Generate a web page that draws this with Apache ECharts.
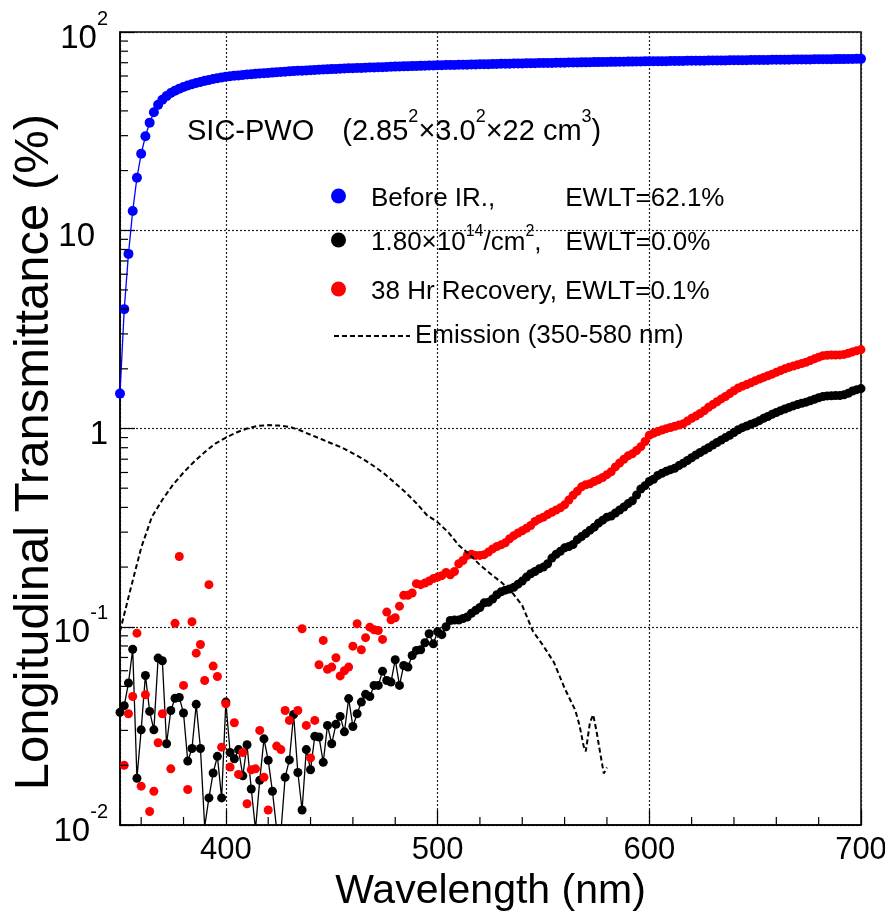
<!DOCTYPE html>
<html>
<head>
<meta charset="utf-8">
<script src="https://cdn.jsdelivr.net/npm/echarts@6/dist/echarts.min.js"></script>
<style>
  html, body { margin: 0; padding: 0; background: #fff; }
  #chart { width: 885px; height: 917px; }
</style>
</head>
<body>
<div id="chart"></div>
<script>
// sampling grid, 2 nm steps from 350 to 700 nm
const wavelengths = [];
for (let w = 350; w <= 700; w += 2) wavelengths.push(w);

// Before irradiation (%)
const beforeIR = [
  1.5, 4.0, 7.6, 12.5, 18.4, 24.3, 29.8, 34.9, 39.4, 42.9, 45.5, 47.5, 49.2,
  50.6, 51.8, 52.8, 53.7, 54.5, 55.3, 56.0, 56.7, 57.3, 57.9, 58.5, 59.0, 59.5,
  59.8, 60.1, 60.4, 60.7, 61.0, 61.2, 61.5, 61.7, 62.0, 62.2, 62.4, 62.6, 62.9,
  63.1, 63.3, 63.5, 63.7, 63.8, 64.0, 64.2, 64.4, 64.5, 64.7, 64.8, 65.0,
  65.1, 65.3, 65.4, 65.6, 65.7, 65.8, 65.9, 66.1, 66.2, 66.3, 66.4, 66.5,
  66.6, 66.8, 66.9, 67.0, 67.1, 67.2, 67.3, 67.4, 67.5, 67.6, 67.7, 67.8, 67.9,
  68.0, 68.1, 68.1, 68.2, 68.3, 68.4, 68.4, 68.5, 68.6, 68.7, 68.8, 68.8, 68.9,
  69.0, 69.1, 69.1, 69.2, 69.3, 69.3, 69.4, 69.5, 69.5, 69.6, 69.7, 69.7,
  69.8, 69.8, 69.9, 70.0, 70.0, 70.1, 70.2, 70.2, 70.3, 70.3, 70.4, 70.5,
  70.5, 70.6, 70.6, 70.7, 70.7, 70.8, 70.8, 70.9, 70.9, 71.0, 71.0, 71.1, 71.1,
  71.2, 71.2, 71.3, 71.3, 71.4, 71.4, 71.5, 71.5, 71.6, 71.6, 71.6, 71.7, 71.7,
  71.8, 71.8, 71.9, 71.9, 71.9, 72.0, 72.0, 72.1, 72.1, 72.1, 72.2, 72.2,
  72.3, 72.3, 72.3, 72.4, 72.4, 72.5, 72.5, 72.5, 72.6, 72.6, 72.7, 72.7,
  72.7, 72.8, 72.8, 72.9, 72.9, 72.9, 73.0, 73.0, 73.0, 73.1, 73.1, 73.2, 73.2
];

// after 1.80e14 /cm2 (%)
const irradiated = [
  0.037, 0.040, 0.052, 0.077, 0.0172, 0.0302, 0.0568, 0.0374, 0.0302, 0.0695,
  0.0674, 0.0257, 0.0378, 0.0436, 0.0440, 0.0367, 0.0210, 0.0243, 0.0406,
  0.0243, 0.0098, 0.0137, 0.0183, 0.0222, 0.0137, 0.0417,
  0.0232, 0.0216, 0.0240, 0.0177, 0.0254, 0.0152, 0.0095, 0.0168, 0.0272, 0.0212,
  0.0148, 0.0095, 0.0092, 0.0174, 0.0213, 0.0361, 0.0184, 0.0119, 0.0240, 0.0190,
  0.0280, 0.0278, 0.0207, 0.0318, 0.0257, 0.0322, 0.0353, 0.0295, 0.0434, 0.0314,
  0.0364, 0.0417, 0.0456, 0.0445, 0.0506, 0.0506, 0.0597, 0.0536, 0.0526, 0.0682,
  0.0506, 0.0638, 0.0626, 0.0716, 0.0760, 0.0766, 0.0830, 0.0922, 0.0820, 0.0945,
  0.0912, 0.100, 0.1076, 0.108, 0.108, 0.110, 0.112, 0.117, 0.121, 0.125,
  0.132, 0.133, 0.138, 0.145, 0.150, 0.153, 0.155, 0.158, 0.164, 0.170,
  0.178, 0.185, 0.190, 0.196, 0.200, 0.208, 0.222, 0.232, 0.240, 0.250,
  0.254, 0.260, 0.275, 0.285, 0.295, 0.307, 0.318, 0.333, 0.345, 0.357,
  0.362, 0.375, 0.388, 0.402, 0.418, 0.432, 0.462, 0.495, 0.515, 0.540,
  0.555, 0.580, 0.595, 0.608, 0.620, 0.630, 0.650, 0.668, 0.690, 0.712,
  0.735, 0.757, 0.778, 0.800, 0.825, 0.850, 0.875, 0.900, 0.925, 0.955,
  0.985, 1.010, 1.030, 1.050, 1.070, 1.095, 1.125, 1.150, 1.180, 1.205,
  1.230, 1.255, 1.278, 1.300, 1.320, 1.340, 1.358, 1.380, 1.405, 1.430,
  1.450, 1.460, 1.463, 1.465, 1.468, 1.480, 1.505, 1.545, 1.570, 1.590
];

// after 38 h recovery (%)
const recovery = [
  0.008, 0.0200, 0.0364, 0.0445, 0.0928, 0.0157, 0.0454, 0.0117, 0.0148, 0.0260,
  0.0364, 0.008, 0.0192, 0.104, 0.226, 0.0506, 0.0151, 0.106, 0.0736, 0.0814,
  0.0536, 0.163, 0.0633, 0.0561, 0.0247, 0.0409,
  0.0196, 0.0328, 0.0180, 0.0232, 0.0128, 0.0190, 0.0192, 0.0300, 0.0174, 0.0119,
  0.009, 0.0250, 0.0240, 0.0378, 0.0337, 0.009, 0.0378, 0.0977, 0.0318, 0.0218,
  0.0337, 0.0643, 0.0853, 0.0610, 0.0626, 0.0698, 0.0565, 0.0600, 0.0626, 0.0798,
  0.1035, 0.0766, 0.0881, 0.0995, 0.0966, 0.0958, 0.0863, 0.1186, 0.1085, 0.111,
  0.127, 0.144, 0.144, 0.148, 0.165, 0.163, 0.166, 0.170, 0.175, 0.178,
  0.181, 0.188, 0.183, 0.190, 0.208, 0.216, 0.229, 0.232, 0.229, 0.229,
  0.231, 0.238, 0.247, 0.254, 0.259, 0.265, 0.278, 0.288, 0.297, 0.305,
  0.314, 0.324, 0.340, 0.350, 0.357, 0.368, 0.378, 0.388, 0.398, 0.412,
  0.436, 0.460, 0.482, 0.508, 0.520, 0.526, 0.540, 0.552, 0.566, 0.585,
  0.605, 0.640, 0.670, 0.700, 0.728, 0.745, 0.775, 0.810, 0.860, 0.925,
  0.945, 0.965, 0.982, 0.998, 1.012, 1.025, 1.040, 1.056, 1.090, 1.125,
  1.155, 1.190, 1.230, 1.280, 1.320, 1.365, 1.410, 1.450, 1.500, 1.550,
  1.600, 1.635, 1.665, 1.700, 1.740, 1.775, 1.810, 1.845, 1.880, 1.920,
  1.960, 2.000, 2.035, 2.065, 2.095, 2.125, 2.160, 2.200, 2.245, 2.290,
  2.330, 2.340, 2.345, 2.348, 2.350, 2.365, 2.395, 2.435, 2.470, 2.500
];

// emission spectrum (arbitrary scale)
const emissionWl = [
  350, 355, 360, 365, 370, 375, 380, 385, 390, 395, 400, 405, 410, 415, 420,
  425, 430, 435, 440, 445, 450, 455, 460, 465, 470, 475, 480, 485, 490, 495,
  500, 505, 510, 515, 520, 525, 530, 535, 540, 545, 550, 555, 560, 565, 567,
  569, 570, 572, 573.5, 575, 577, 578.5, 580
];
const emissionVal = [
  0.095, 0.155, 0.25, 0.357, 0.437, 0.52, 0.60, 0.68, 0.76, 0.84, 0.90, 0.955,
  1.0, 1.03, 1.04, 1.035, 1.02, 0.98, 0.93, 0.885, 0.84, 0.80, 0.75, 0.70,
  0.645, 0.59, 0.53, 0.475, 0.42, 0.365, 0.337, 0.30, 0.258, 0.232, 0.205,
  0.185, 0.168, 0.150, 0.128, 0.095, 0.080, 0.066, 0.049, 0.038, 0.032,
  0.025, 0.0235, 0.033, 0.036, 0.030, 0.0225, 0.0182, 0.0195
];

// tick positions
const xMinorTicks = [360, 380, 420, 440, 460, 480, 520, 540, 560, 580, 620, 640, 660, 680];
const yMinorMult = [2, 3, 4, 5, 6, 7, 8, 9];
const yDecades = [0.01, 0.1, 1, 10];

const tickData = [];
xMinorTicks.forEach(x => tickData.push([x, 0.01, 8, 0]));
yDecades.forEach(d => yMinorMult.forEach(m => tickData.push([350, +(d * m).toPrecision(3), 8, 1])));

const pairs = vals => vals.map((v, i) => [wavelengths[i], v]);

const FONT = '"Liberation Sans", Arial, Helvetica, sans-serif';

const legendText = {
  'Before IR.': '{pre|}{a|Before IR.,}{gap1|}{a|EWLT=62.1%}',
  'Irradiated': '{pre|}{a|1.80×10}{sup|14}{a|/cm}{sup|2}{a|,}{gap2|}{a|EWLT=0.0%}',
  '38 Hr Recovery': '{pre|}{a|38 Hr Recovery,}{gap3|}{a|EWLT=0.1%}'
};
const legendRich = {
  pre: { width: 20 },
  a: { fontSize: 26, color: '#000', fontFamily: FONT, verticalAlign: 'bottom', lineHeight: 32 },
  sup: { fontSize: 16, color: '#000', fontFamily: FONT, verticalAlign: 'top', lineHeight: 32 },
  gap1: { width: 70 },
  gap2: { width: 24 },
  gap3: { width: 8 }
};

const chart = echarts.init(document.getElementById('chart'));
chart.setOption({
  animation: false,
  backgroundColor: '#fff',
  textStyle: { fontFamily: FONT },
  title: {
    left: 182,
    top: 103,
    text: '{t|SIC-PWO}{gap|}{t|(2.85}{s|2}{t|×3.0}{s|2}{t|×22 cm}{s|3}{t|)}',
    textStyle: {
      fontWeight: 'normal',
      rich: {
        t: { fontSize: 29, color: '#000', fontFamily: FONT, fontWeight: 'normal', verticalAlign: 'bottom', lineHeight: 38 },
        s: { fontSize: 18, color: '#000', fontFamily: FONT, fontWeight: 'normal', verticalAlign: 'top', lineHeight: 38 },
        gap: { width: 28 }
      }
    }
  },
  graphic: [{
    type: 'text',
    x: 34,
    y: 452,
    rotation: Math.PI / 2,
    style: {
      text: 'Longitudinal Transmittance (%)',
      font: '49px ' + FONT,
      fill: '#000',
      align: 'center',
      verticalAlign: 'middle'
    }
  }],
  legend: [{
    orient: 'vertical',
    left: 326,
    top: 181,
    itemWidth: 15,
    itemHeight: 15,
    itemGap: 12,
    data: [
      { name: 'Before IR.', icon: 'circle' },
      { name: 'Irradiated', icon: 'circle' }
    ],
    formatter: name => legendText[name],
    textStyle: { rich: legendRich }
  }, {
    left: 326,
    top: 274,
    itemWidth: 15,
    itemHeight: 15,
    data: [{ name: '38 Hr Recovery', icon: 'circle' }],
    formatter: name => legendText[name],
    textStyle: { rich: legendRich }
  }, {
    left: 328,
    top: 318,
    itemWidth: 76,
    itemHeight: 14,
    data: [{ name: 'Emission (350-580 nm)', itemStyle: { opacity: 0 } }],
    textStyle: { fontSize: 26, color: '#000', fontFamily: FONT }
  }],
  grid: {
    left: 120,
    right: 24,
    top: 32,
    bottom: 92,
    containLabel: false,
    outerBoundsMode: 'none',
    show: true,
    borderColor: '#000',
    borderWidth: 1.5,
    backgroundColor: '#fff'
  },
  xAxis: {
    type: 'value',
    min: 350,
    max: 700,
    splitNumber: 4,
    name: 'Wavelength (nm)',
    nameLocation: 'middle',
    nameGap: 34,
    nameTextStyle: { fontSize: 41, color: '#000', fontFamily: FONT },
    axisLine: { lineStyle: { color: '#000', width: 1.5 } },
    axisTick: { inside: true, length: 15, lineStyle: { color: '#000', width: 1.2 } },
    axisLabel: {
      fontSize: 31,
      color: '#000',
      margin: 10,
      formatter: v => (v % 100 === 0 ? String(v) : '')
    },
    splitLine: { show: true, lineStyle: { color: '#222', type: [2, 2], width: 1.2 } }
  },
  yAxis: {
    type: 'log',
    logBase: 10,
    min: 0.01,
    max: 100,
    axisLine: { lineStyle: { color: '#000', width: 1.5 } },
    axisTick: { inside: true, length: 15, lineStyle: { color: '#000', width: 1.2 } },
    axisLabel: {
      margin: 12,
      formatter: v => {
        const e = Math.round(Math.log10(v));
        if (e === 0) return '{n|1}';
        if (e === 1) return '{n|10}{pad|}';
        return '{n|10}{sup|' + e + '}';
      },
      rich: {
        n: { fontSize: 33, color: '#000', fontFamily: FONT, verticalAlign: 'bottom', lineHeight: 46 },
        sup: { fontSize: 20, color: '#000', fontFamily: FONT, verticalAlign: 'top', lineHeight: 46 },
        pad: { width: 13 }
      }
    },
    splitLine: { show: true, lineStyle: { color: '#222', type: [2, 2], width: 1.2 } }
  },
  series: [
    {
      name: 'Before IR.',
      type: 'line',
      data: pairs(beforeIR),
      symbol: 'circle',
      symbolSize: 10,
      itemStyle: { color: '#0000ff', opacity: 1 },
      lineStyle: { color: '#0000ff', width: 1.3 },
      z: 3
    },
    {
      name: 'Irradiated',
      type: 'line',
      data: pairs(irradiated),
      symbol: 'circle',
      symbolSize: 9,
      itemStyle: { color: '#000', opacity: 1 },
      lineStyle: { color: '#000', width: 1.3 },
      z: 3
    },
    {
      name: '38 Hr Recovery',
      type: 'scatter',
      data: pairs(recovery),
      symbol: 'circle',
      symbolSize: 9,
      itemStyle: { color: '#ff0000', opacity: 1 },
      z: 4
    },
    {
      name: 'Emission (350-580 nm)',
      type: 'line',
      data: emissionWl.map((w, i) => [w, emissionVal[i]]),
      symbol: 'none',
      itemStyle: { color: '#000' },
      lineStyle: { color: '#000', width: 2, type: [5, 3] },
      z: 5
    },
    {
      name: 'ticks',
      type: 'custom',
      silent: true,
      data: tickData,
      encode: { x: 0, y: 1 },
      renderItem: (params, api) => {
        const p = api.coord([api.value(0), api.value(1)]);
        const len = api.value(2);
        const shape = api.value(3) === 0
          ? { x1: p[0], y1: p[1], x2: p[0], y2: p[1] - len }
          : { x1: p[0], y1: p[1], x2: p[0] + len, y2: p[1] };
        return { type: 'line', shape: shape, style: { stroke: '#000', lineWidth: 1.2 } };
      },
      z: 6
    }
  ]
});
</script>
</body>
</html>
